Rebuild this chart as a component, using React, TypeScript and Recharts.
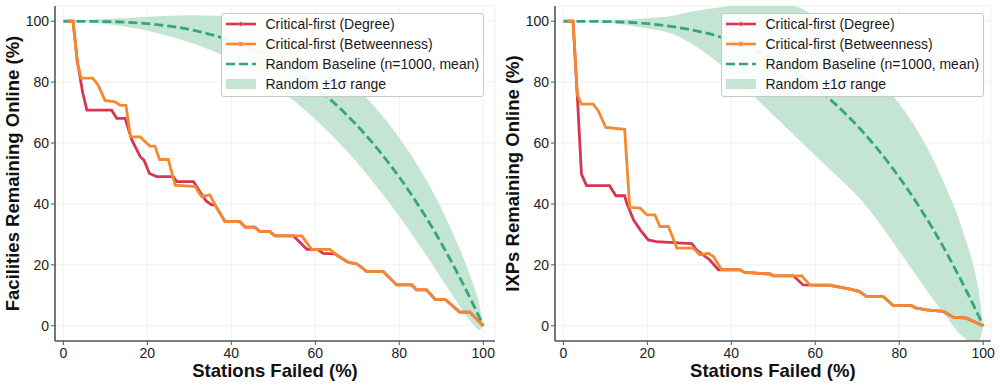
import React from "react";
import { ComposedChart, Line, Area, XAxis, YAxis, CartesianGrid } from "recharts";

const TICKS = [0, 20, 40, 60, 80, 100];

const RED = "#d63650";
const ORANGE = "#f28a30";
const GREEN = "#35a57c";
const BAND = "#c4e5d4";

// ---- Facilities panel ----
const facDegree: [number, number][] = [
  [1, 100], [2.3, 100], [3.3, 87], [4.6, 76.5], [5.6, 70.8], [11.5, 70.8], [12.7, 68.1], [14.7, 68.1],
  [16.3, 61], [17.1, 58.8], [18.3, 55.5], [19.2, 54.4], [20.5, 50], [22.2, 49], [26.2, 49], [27, 47.3],
  [31, 47.3], [32.5, 44], [34, 41], [35.3, 39.7], [36.1, 39.7], [38.5, 34.2], [42, 34.2], [43.3, 32.4],
  [45.6, 32.4], [46.8, 30.9], [49.2, 30.9], [50.4, 29.5], [54.8, 29.5], [58, 25.1], [60.5, 25.1],
  [61.9, 23.8], [64.7, 23.6], [65.9, 22.5], [67.9, 20.8], [69.9, 20.3], [71, 19.2], [72.2, 17.8],
  [76.2, 17.8], [79.4, 13.4], [83, 13.4], [84.1, 11.8], [86.5, 11.8], [88.5, 8.7], [90.9, 8.7],
  [94.4, 4.5], [96.8, 4.5], [100, 0],
];
const facBetweenness: [number, number][] = [
  [1, 100], [2.3, 100], [3.3, 86.7], [4.2, 81.3], [7, 81.3], [8.3, 79], [9.9, 74], [12.3, 73.5],
  [13.5, 72.4], [14.9, 72.4], [16, 62], [18.3, 62], [19.5, 60.4], [20.6, 59], [21.8, 59], [22.9, 54.6],
  [25, 54.6], [26.6, 46.2], [31.4, 45.7], [32.1, 44], [33, 42.4], [34.9, 43], [36.1, 39.7], [38.5, 34.2],
  [42, 34.2], [43.3, 32.4], [45.6, 32.4], [46.8, 30.9], [49.2, 30.9], [50.4, 29.5], [56.8, 29.5],
  [59.1, 25.1], [63.5, 25.1], [64.7, 23.6], [65.9, 22.5], [67.9, 20.8], [69.9, 20.3], [71, 19.2],
  [72.2, 17.8], [76.2, 17.8], [79.4, 13.4], [83, 13.4], [84.1, 11.8], [86.5, 11.8], [88.5, 8.7],
  [90.9, 8.7], [94.4, 4.5], [96.8, 4.5], [100, 0],
];
const facBaseX = [0, 10, 20, 30, 37, 45, 54, 60, 67, 75.4, 80, 85, 88, 90, 92, 94, 96, 98, 99, 100];
const facBaseMean = [100, 99.9, 99.2, 97.3, 94.9, 90.9, 84.3, 78.4, 69.9, 57.1, 48.8, 38.6, 31.9, 27.1, 22.1, 16.9, 11.5, 5.9, 3, 0];
const facBandHigh = [100, 100.7, 101.5, 102, 101.8, 99.3, 93.7, 89, 81.7, 69.9, 61.7, 51.2, 43.9, 38.6, 32.8, 26.6, 19.7, 12, 7.4, 0];
const facBandLow = [100, 99.1, 96.9, 93.1, 89.4, 83.5, 74.9, 67.8, 58.1, 44.3, 35.9, 26, 19.9, 15.6, 11.4, 7.2, 3.3, -0.2, -1.4, 0];

// ---- IXPs panel ----
const ixpDegree: [number, number][] = [
  [0.9, 100], [2.3, 100], [3.3, 76], [4.3, 49.8], [5.5, 46], [11, 46], [12.5, 42.7], [14.6, 42.7],
  [15.1, 40.2], [16.7, 34.8], [18.3, 31.5], [20.2, 28.2], [22.2, 27.6], [26.2, 27.3], [30.6, 27],
  [31.7, 24.9], [34.9, 21.6], [36.9, 18.4], [42, 18.4], [43.2, 17.5], [49.2, 17], [50, 16.4],
  [54.8, 16.4], [57.1, 13.4], [63.5, 13.3], [65.5, 12.8], [68.3, 12], [70.6, 11.2], [72.2, 9.6],
  [76.2, 9.6], [78.6, 6.6], [82.9, 6.6], [83.9, 5.9], [86.5, 5.2], [90.5, 4.7], [92.9, 2.8], [96, 2.5],
  [100, 0],
];
const ixpBetweenness: [number, number][] = [
  [0.9, 100], [2.3, 100], [3.3, 76], [4.3, 72.8], [7.1, 72.8], [8.3, 70.6], [10.1, 65.1], [14.6, 64.5],
  [15.8, 38.9], [18.3, 38.6], [19.9, 36.4], [21.8, 36.4], [23, 32.6], [25, 32.6], [26.6, 27.1], [27, 25.5],
  [30.9, 25.5], [32.5, 23.3], [34.5, 23.8], [35.7, 22.8], [37.7, 18.4], [42, 18.4], [43.2, 17.5],
  [49.2, 17], [50, 16.4], [56.8, 16.4], [58.7, 13.4], [63.5, 13.3], [65.5, 12.8], [68.3, 12],
  [70.6, 11.2], [72.2, 9.6], [76.2, 9.6], [78.6, 6.6], [82.9, 6.6], [83.9, 5.9], [86.5, 5.2], [90.5, 4.7],
  [92.9, 2.8], [96, 2.5], [100, 0],
];
const ixpBaseX = [0, 10, 15, 20, 26, 30, 37.2, 47, 55, 63, 71, 78, 85, 88, 91.3, 94, 96, 97.2, 98, 99.2, 100];
const ixpBaseMean = [100, 99.9, 99.7, 99.2, 98.2, 97.3, 94.9, 89.6, 83.4, 75, 64.2, 52.5, 38.6, 31.9, 23.9, 16.9, 11.5, 8.2, 5.9, 2.4, 0];
const ixpBandHigh = [100, 100.2, 100.6, 101, 101.8, 103, 104.5, 106.5, 105, 98.5, 87.2, 76.5, 62.6, 54.9, 44.9, 35.9, 27.5, 22.2, 17.9, 9.4, 0];
const ixpBandLow = [100, 99.6, 98.8, 97.6, 95.8, 93, 86, 73.2, 62.5, 52, 41.2, 28.5, 14.6, 8.9, 2.9, -2.1, -4.5, -5.8, -6.1, -4.6, 0];

const toPoints = (pts: [number, number][]) => pts.map(([x, y]) => ({ x, y }));
const toBand = (xs: number[], mean: number[], lo: number[], hi: number[]) =>
  xs.map((x, i) => ({ x, mean: mean[i], range: [lo[i], hi[i]] }));

const FONT = "'Liberation Sans', Arial, Helvetica, sans-serif";

const legendItems = [
  { label: "Critical-first (Degree)", kind: "red" },
  { label: "Critical-first (Betweenness)", kind: "orange" },
  { label: "Random Baseline (n=1000, mean)", kind: "dash" },
  { label: "Random \u00b11\u03c3 range", kind: "band" },
];

function Handle({ kind }: { kind: string }) {
  return (
    <svg width={30} height={12} style={{ position: "absolute", left: 4, top: 4 }}>
      {kind === "red" && (
        <>
          <line x1={0} y1={6} x2={30} y2={6} stroke={RED} strokeWidth={2.6} />
          <circle cx={15} cy={6} r={2} fill={RED} stroke="#f3a0ae" strokeWidth={0.6} />
        </>
      )}
      {kind === "orange" && (
        <>
          <line x1={0} y1={6} x2={30} y2={6} stroke={ORANGE} strokeWidth={2.6} />
          <rect x={13} y={4} width={4} height={4} fill={ORANGE} stroke="#f8c08f" strokeWidth={0.6} />
        </>
      )}
      {kind === "dash" && (
        <line x1={0} y1={6} x2={30} y2={6} stroke={GREEN} strokeWidth={2.6} strokeDasharray="9 4" />
      )}
      {kind === "band" && <rect x={0} y={1} width={30} height={10} fill={BAND} />}
    </svg>
  );
}

function LegendBox({ left }: { left: number }) {
  return (
    <div
      style={{
        position: "absolute",
        left,
        top: 12.5,
        width: 263,
        height: 84,
        border: "1px solid #c8c8c8",
        borderRadius: 3,
        background: "rgba(255,255,255,0.92)",
        boxSizing: "border-box",
        fontFamily: FONT,
        fontSize: 14,
        color: "#1a1a1a",
      }}
    >
      {legendItems.map((it, i) => (
        <div key={it.label} style={{ position: "absolute", left: 0, top: 0.5 + i * 20, height: 20, width: "100%" }}>
          <Handle kind={it.kind} />
          <span style={{ position: "absolute", left: 44, top: 1.5, whiteSpace: "nowrap", lineHeight: "16px" }}>
            {it.label}
          </span>
        </div>
      ))}
    </div>
  );
}

type PanelProps = {
  yLabel: string;
  degree: [number, number][];
  betweenness: [number, number][];
  baseX: number[];
  baseMean: number[];
  bandLow: number[];
  bandHigh: number[];
  xMax: number;
  marginRight: number;
};

function Panel({ yLabel, degree, betweenness, baseX, baseMean, bandLow, bandHigh, xMax, marginRight }: PanelProps) {
  const band = toBand(baseX, baseMean, bandLow, bandHigh);
  const xDomain: [number, number] = [-2, xMax];
  const tickStyle = { fill: "#222", fontSize: 14, fontFamily: FONT };
  return (
    <ComposedChart width={500} height={386} margin={{ top: 6, right: marginRight, bottom: 0, left: 0 }}>
      <CartesianGrid stroke="#ececec" strokeWidth={0.8} />
      <XAxis
        type="number"
        dataKey="x"
        domain={xDomain}
        ticks={TICKS}
        allowDataOverflow
        height={45}
        tick={tickStyle}
        tickSize={4}
        tickMargin={3}
        tickLine={{ stroke: "#555" }}
        axisLine={{ stroke: "#555", strokeWidth: 1.6 }}
        label={{
          value: "Stations Failed (%)",
          position: "insideBottom",
          offset: 9,
          style: { fontFamily: FONT, fontSize: 18.5, fontWeight: "bold", fill: "#111" },
        }}
      />
      <XAxis
        xAxisId="top"
        orientation="top"
        type="number"
        domain={xDomain}
        height={0}
        tick={false}
        tickLine={false}
        axisLine={{ stroke: "#555", strokeWidth: 1.2 }}
      />
      <YAxis
        type="number"
        domain={[-5, 105]}
        ticks={TICKS}
        allowDataOverflow
        width={55}
        tick={tickStyle}
        tickSize={4}
        tickMargin={2}
        tickLine={{ stroke: "#555" }}
        axisLine={{ stroke: "#555", strokeWidth: 1.6 }}
        label={{
          value: yLabel,
          angle: -90,
          position: "insideLeft",
          offset: 0,
          dx: 12,
          style: { fontFamily: FONT, fontSize: 18.5, fontWeight: "bold", fill: "#111", textAnchor: "middle" },
        }}
      />
      <YAxis
        yAxisId="right"
        orientation="right"
        type="number"
        domain={[-5, 105]}
        width={0}
        tick={false}
        tickLine={false}
        axisLine={{ stroke: "#555", strokeWidth: 1.2 }}
      />
      <Area
        data={band}
        dataKey="range"
        type="monotone"
        fill={BAND}
        fillOpacity={1}
        stroke="none"
        isAnimationActive={false}
      />
      <Line
        data={band}
        dataKey="mean"
        type="monotone"
        stroke={GREEN}
        strokeWidth={2.8}
        strokeDasharray="9 4"
        dot={false}
        isAnimationActive={false}
      />
      <Line
        data={toPoints(degree)}
        dataKey="y"
        type="linear"
        stroke={RED}
        strokeWidth={2.8}
        dot={false}
        isAnimationActive={false}
      />
      <Line
        data={toPoints(betweenness)}
        dataKey="y"
        type="linear"
        stroke={ORANGE}
        strokeWidth={2.8}
        dot={false}
        isAnimationActive={false}
      />
    </ComposedChart>
  );
}

export default function App() {
  return (
    <div style={{ position: "absolute", left: 0, top: 0, width: 1000, height: 386, background: "#fff" }}>
      <div style={{ position: "absolute", left: 0, top: 0, width: 500, height: 386 }}>
        <Panel
          yLabel="Facilities Remaining Online (%)"
          degree={facDegree}
          betweenness={facBetweenness}
          baseX={facBaseX}
          baseMean={facBaseMean}
          bandLow={facBandLow}
          bandHigh={facBandHigh}
          xMax={102.8}
          marginRight={5}
        />
        <LegendBox left={220.5} />
      </div>
      <div style={{ position: "absolute", left: 500, top: 0, width: 500, height: 386 }}>
        <Panel
          yLabel="IXPs Remaining Online (%)"
          degree={ixpDegree}
          betweenness={ixpBetweenness}
          baseX={ixpBaseX}
          baseMean={ixpBaseMean}
          bandLow={ixpBandLow}
          bandHigh={ixpBandHigh}
          xMax={101.8}
          marginRight={9.3}
        />
        <LegendBox left={220.5} />
      </div>
    </div>
  );
}
